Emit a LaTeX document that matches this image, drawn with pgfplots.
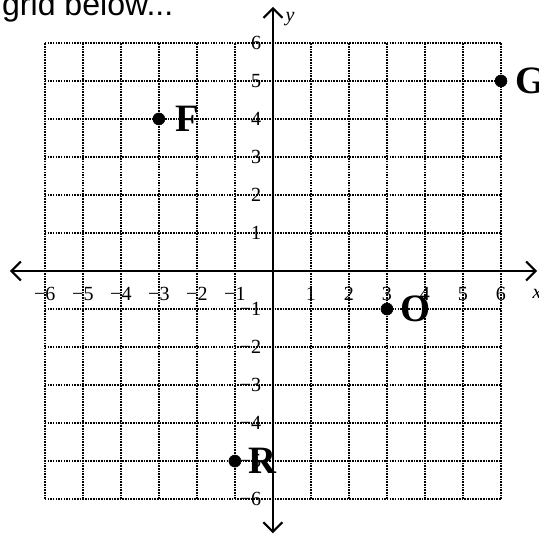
\documentclass[border=0pt]{standalone}
\usepackage{pgfplots}
\pgfplotsset{compat=1.18}
\usepackage{fontspec}
\setmainfont{Liberation Serif}
\newfontfamily\headfont{Liberation Sans}
\usetikzlibrary{arrows.meta}

\begin{document}
\begin{tikzpicture}
\useasboundingbox (-7.18,-6.95) rectangle (7.0,7.13);
\clip (-7.18,-6.95) rectangle (7.0,7.13);
% cut-off line of text above the grid
\node[anchor=base west, inner sep=0pt, font=\headfont\fontsize{24}{24}\selectfont] at (-7.13,6.71) {grid below...};
\begin{axis}[
  x=1cm, y=1cm,
  anchor=origin, at={(0,0)},
  xmin=-6, xmax=6, ymin=-6, ymax=6,
  axis lines=middle,
  clip=false,
  major tick length=0pt,
  xtick={-6,-5,-4,-3,-2,-1,1,2,3,4,5,6},
  ytick={-6,-5,-4,-3,-2,-1,1,2,3,4,5,6},
  xticklabels={−6,−5,−4,−3,−2,−1,1,2,3,4,5,6},
  yticklabels={−6,−5,−4,−3,−2,−1,1,2,3,4,5,6},
  ticklabel style={font=\fontsize{15}{15}\selectfont, inner sep=0pt},
  xticklabel style={anchor=center, yshift=-0.6cm},
  yticklabel style={anchor=east, xshift=-0.3cm},
  grid=major,
  grid style={black, line width=1pt, dash pattern=on 1.2pt off 0.8pt},
  x axis line style={line width=1.6pt, {Straight Barb[length=2.5mm,width=5mm]}-{Straight Barb[length=2.5mm,width=5mm]}, shorten <=-0.92cm, shorten >=-0.95cm},
  y axis line style={line width=1.6pt, {Straight Barb[length=2.5mm,width=5mm]}-{Straight Barb[length=2.5mm,width=5mm]}, shorten <=-0.9cm, shorten >=-0.95cm},
]
\addplot[only marks, mark=*, mark size=4.5pt, black] coordinates {
  (-3,4) (6,5) (3,-1) (-1,-5)
};
\node[anchor=west, inner sep=0pt, font=\bfseries\fontsize{29}{29}\selectfont] at (axis cs:-2.58,4) {F};
\node[anchor=west, inner sep=0pt, font=\bfseries\fontsize{29}{29}\selectfont] at (axis cs:6.37,5) {G};
\node[anchor=west, inner sep=0pt, font=\bfseries\fontsize{29}{29}\selectfont] at (axis cs:3.34,-1) {O};
\node[anchor=west, inner sep=0pt, font=\bfseries\fontsize{29}{29}\selectfont] at (axis cs:-0.66,-5) {R};
\node[font=\itshape\fontsize{15}{15}\selectfont] at (axis cs:6.95,-0.6) {x};
\node[font=\itshape\fontsize{15}{15}\selectfont] at (axis cs:0.45,6.62) {y};
\end{axis}
\end{tikzpicture}
\end{document}
